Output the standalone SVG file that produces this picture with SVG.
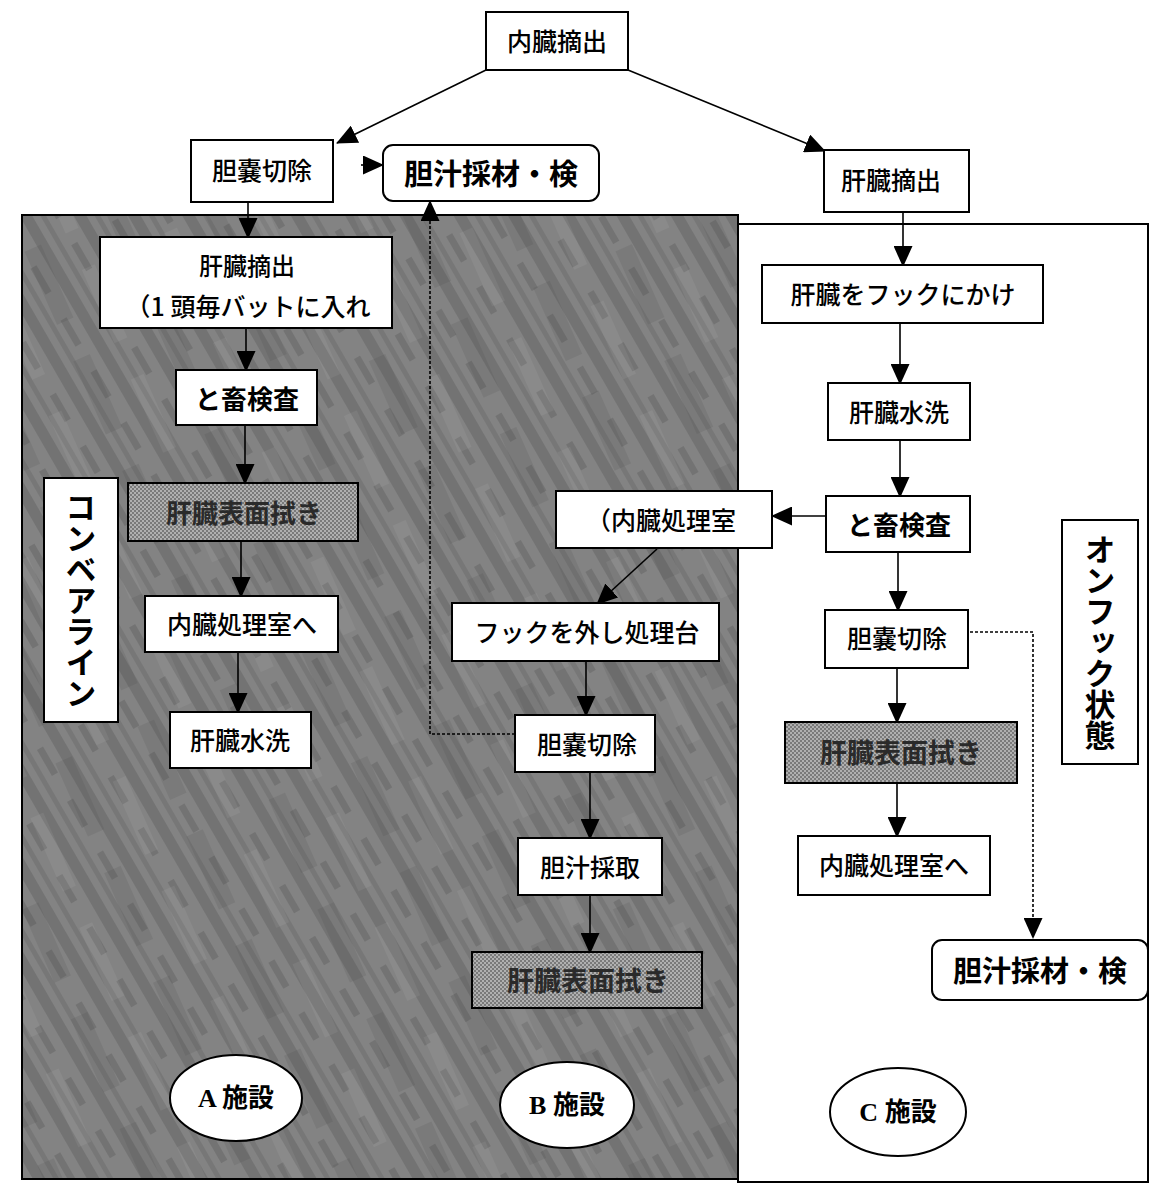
<svg xmlns="http://www.w3.org/2000/svg" width="1157" height="1190" viewBox="0 0 1157 1190">
<style>
.box{fill:#fff;stroke:#000;stroke-width:2}
.gbox{fill:url(#gtex);stroke:#000;stroke-width:2}
.ell{fill:#fff;stroke:#000;stroke-width:2}
.t{font-family:"Noto Sans CJK JP","Liberation Sans",sans-serif;font-size:25px;font-weight:500;text-anchor:middle;dominant-baseline:central;fill:#000}
.b{font-weight:bold}
.g{fill:#2a2a2a;font-weight:bold}
.v{writing-mode:vertical-rl;font-weight:bold;font-size:31px}
.e{font-family:"Liberation Serif","Noto Sans CJK JP",serif;font-size:26px;font-weight:bold;text-anchor:middle;dominant-baseline:central}
.c{stroke:#000;stroke-width:1.6;fill:none}
.d{stroke-dasharray:3 2}
</style>
<defs>
<pattern id="dtex" width="47" height="60" patternUnits="userSpaceOnUse" patternTransform="rotate(-30)">
<rect width="47" height="60" fill="#838383"/>
<rect x="3" width="11" height="60" fill="#555" opacity="0.35"/>
<rect x="21" width="5" height="60" fill="#5e5e5e" opacity="0.3"/>
<rect x="33" y="8" width="7" height="30" fill="#505050" opacity="0.3"/>
</pattern>
<pattern id="dtex2" width="90" height="120" patternUnits="userSpaceOnUse" patternTransform="rotate(-24)">
<rect x="10" width="18" height="80" fill="#3a3a3a" opacity="0.12"/>
<rect x="55" y="40" width="14" height="80" fill="#ffffff" opacity="0.06"/>
</pattern>
<pattern id="gtex" width="4" height="4" patternUnits="userSpaceOnUse">
<rect width="4" height="4" fill="#b0b0b0"/>
<rect width="2" height="2" fill="#7a7a7a"/>
<rect x="2" y="2" width="2" height="2" fill="#7a7a7a"/>
</pattern>
<marker id="ah" markerWidth="21" markerHeight="19" refX="20" refY="9.5" orient="auto" markerUnits="userSpaceOnUse">
<path d="M0,0 L21,9.5 L0,19 Z" fill="#000"/>
</marker>
</defs>

<g id="panels">
<rect x="738" y="224" width="410" height="958" fill="#fff" stroke="#000" stroke-width="2"/>
<rect x="22" y="215" width="716" height="964" fill="url(#dtex)" stroke="#000" stroke-width="2"/>
<rect x="23" y="216" width="714" height="962" fill="url(#dtex2)"/>
</g>

<g id="connectors">
<path class="c" d="M486,70 L337,143" marker-end="url(#ah)"/>
<path class="c" d="M628,70 L825,151" marker-end="url(#ah)"/>
<path class="c" d="M361,165 L383,165" marker-end="url(#ah)"/>
<path class="c" d="M248,202 V238" marker-end="url(#ah)"/>
<path class="c" d="M246,328 V371" marker-end="url(#ah)"/>
<path class="c" d="M245,425 V484" marker-end="url(#ah)"/>
<path class="c" d="M241,541 V597" marker-end="url(#ah)"/>
<path class="c" d="M238,652 V713" marker-end="url(#ah)"/>
<path class="c d" d="M515,734 H430 V201" marker-end="url(#ah)"/>
<path class="c" d="M903,212 V266" marker-end="url(#ah)"/>
<path class="c" d="M900,323 V384" marker-end="url(#ah)"/>
<path class="c" d="M900,440 V497" marker-end="url(#ah)"/>
<path class="c" d="M898,552 V611" marker-end="url(#ah)"/>
<path class="c" d="M897,668 V723" marker-end="url(#ah)"/>
<path class="c" d="M897,783 V837" marker-end="url(#ah)"/>
<path class="c" d="M826,516 H772" marker-end="url(#ah)"/>
<path class="c" d="M657,549 L597,604" marker-end="url(#ah)"/>
<path class="c" d="M586,661 V716" marker-end="url(#ah)"/>
<path class="c" d="M590,772 V839" marker-end="url(#ah)"/>
<path class="c" d="M590,895 V953" marker-end="url(#ah)"/>
<path class="c d" d="M970,632 H1033 V938" marker-end="url(#ah)"/>
</g>

<g id="n_naizo_tekishutsu"><rect class="box" x="486" y="12" width="142" height="58"/><text class="t" x="557" y="40">内臓摘出</text></g>
<g id="n_tannou_top"><rect class="box" x="191" y="140" width="142" height="62"/><text class="t" x="262" y="169">胆嚢切除</text></g>
<g id="n_tanju_top"><rect class="box" x="383" y="145" width="216" height="56" rx="10"/><text class="t b" x="491" y="172" style="font-size:29px">胆汁採材・検</text></g>
<g id="n_kanzo_top"><rect class="box" x="824" y="150" width="145" height="62"/><text class="t" x="891" y="179">肝臓摘出</text></g>

<g id="n_a_kanzo"><rect class="box" x="100" y="237" width="292" height="91"/><text class="t" x="247" y="264" style="font-size:24px">肝臓摘出</text><text class="t" x="248" y="305">（1 頭毎バットに入れ</text></g>
<g id="n_a_tochiku"><rect class="box" x="176" y="370" width="141" height="55"/><text class="t b" x="247" y="397" style="font-size:26px">と畜検査</text></g>
<g id="n_a_fuki"><rect class="gbox" x="128" y="483" width="230" height="58"/><text class="t g" x="244" y="511" style="font-size:26px">肝臓表面拭き</text></g>
<g id="n_a_shori"><rect class="box" x="145" y="596" width="193" height="56"/><text class="t" x="242" y="623">内臓処理室へ</text></g>
<g id="n_a_suisen"><rect class="box" x="170" y="712" width="141" height="56"/><text class="t" x="240" y="739">肝臓水洗</text></g>
<g id="n_a_label"><rect class="box" x="44" y="478" width="74" height="244"/><text class="t v" x="81" y="600">コンベアライン</text></g>

<g id="n_b_shori"><rect class="box" x="556" y="491" width="216" height="57"/><text class="t" x="661" y="519">（内臓処理室</text></g>
<g id="n_b_hook"><rect class="box" x="452" y="603" width="267" height="58"/><text class="t" x="587" y="631">フックを外し処理台</text></g>
<g id="n_b_tannou"><rect class="box" x="515" y="715" width="140" height="57"/><text class="t" x="587" y="743">胆嚢切除</text></g>
<g id="n_b_tanju"><rect class="box" x="518" y="838" width="144" height="57"/><text class="t" x="590" y="866">胆汁採取</text></g>
<g id="n_b_fuki"><rect class="gbox" x="472" y="952" width="230" height="56"/><text class="t g" x="588" y="979" style="font-size:27px">肝臓表面拭き</text></g>

<g id="n_c_hook"><rect class="box" x="762" y="265" width="281" height="58"/><text class="t" x="903" y="293">肝臓をフックにかけ</text></g>
<g id="n_c_suisen"><rect class="box" x="828" y="383" width="142" height="57"/><text class="t" x="899" y="411">肝臓水洗</text></g>
<g id="n_c_tochiku"><rect class="box" x="826" y="496" width="144" height="56"/><text class="t b" x="899" y="523" style="font-size:26px">と畜検査</text></g>
<g id="n_c_tannou"><rect class="box" x="825" y="610" width="143" height="58"/><text class="t" x="897" y="637">胆嚢切除</text></g>
<g id="n_c_fuki"><rect class="gbox" x="785" y="722" width="232" height="61"/><text class="t g" x="901" y="751" style="font-size:27px">肝臓表面拭き</text></g>
<g id="n_c_shori"><rect class="box" x="798" y="836" width="192" height="59"/><text class="t" x="894" y="864">内臓処理室へ</text></g>
<g id="n_c_tanju"><rect class="box" x="932" y="940" width="216" height="60" rx="10"/><text class="t b" x="1040" y="969" style="font-size:29px">胆汁採材・検</text></g>
<g id="n_c_label"><rect class="box" x="1062" y="520" width="76" height="244"/><text class="t v" x="1100" y="642">オンフック状態</text></g>

<g id="n_a_facility"><ellipse class="ell" cx="236" cy="1098" rx="66" ry="43"/><text class="e" x="236" y="1098">A 施設</text></g>
<g id="n_b_facility"><ellipse class="ell" cx="567" cy="1105" rx="67" ry="43"/><text class="e" x="567" y="1105">B 施設</text></g>
<g id="n_c_facility"><ellipse class="ell" cx="898" cy="1112" rx="68" ry="44"/><text class="e" x="898" y="1112">C 施設</text></g>
</svg>
